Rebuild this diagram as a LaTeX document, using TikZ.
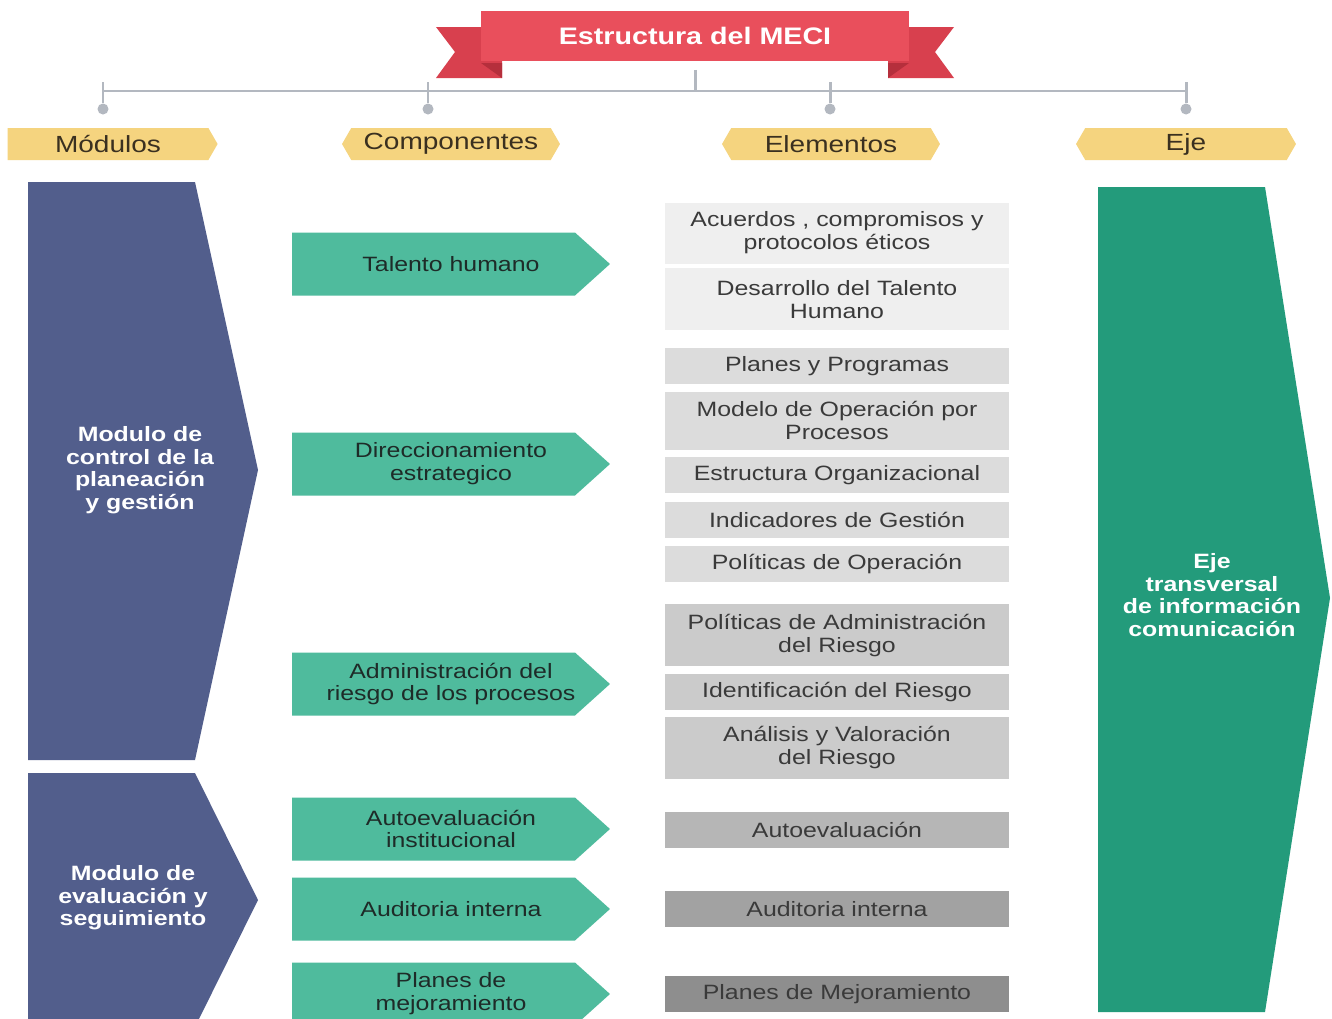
\documentclass[tikz,border=0pt]{standalone}
\usepackage{fontspec}
\setmainfont{Liberation Sans}[FakeStretch=1.2]
\usetikzlibrary{shapes.symbols,positioning}

\definecolor{ribbonMain}{HTML}{E94F5C}
\definecolor{ribbonRed}{HTML}{D8404E}
\definecolor{ribbonDark}{HTML}{B52F3C}
\definecolor{lineGray}{HTML}{B3B8C0}
\definecolor{tagYellow}{HTML}{F5D47F}
\definecolor{tagText}{HTML}{3A3020}
\definecolor{modBlue}{HTML}{525E8C}
\definecolor{compGreen}{HTML}{4FBB9D}
\definecolor{compText}{HTML}{1E2B28}
\definecolor{ejeGreen}{HTML}{239B7B}
\definecolor{elemA}{HTML}{EFEFEF}
\definecolor{elemB}{HTML}{DCDCDC}
\definecolor{elemC}{HTML}{CBCBCB}
\definecolor{elemD}{HTML}{B6B6B6}
\definecolor{elemE}{HTML}{A2A2A2}
\definecolor{elemF}{HTML}{8E8E8E}
\definecolor{elemText}{HTML}{3A3A3A}

\begin{document}
\begin{tikzpicture}[x=0.02cm,y=-0.02cm,
	every node/.style={font=\fontsize{11.8}{13}\selectfont},
	gline/.style={lineGray,line width=1.7pt},
	pin/.style={circle,fill=lineGray,minimum size=0.22cm,inner sep=0},
	tag/.style={signal,signal pointer angle=120,fill=tagYellow,minimum height=0.64cm,
		minimum width=4.36cm,inner sep=0,text=tagText,font=\fontsize{13.3}{15}\selectfont},
	comp/.style={rectangle,minimum width=6.36cm,minimum height=1.26cm,inner sep=0,
		align=center,text=compText,
		path picture={\fill[compGreen] (path picture bounding box.north west)
			-- ([xshift=-0.7cm]path picture bounding box.north east)
			-- (path picture bounding box.east)
			-- ([xshift=-0.7cm]path picture bounding box.south east)
			-- (path picture bounding box.south west) -- cycle;}},
	elem/.style={rectangle,minimum width=6.9cm,inner sep=0,align=center,text=elemText},
	modtext/.style={align=center,text=white,font=\bfseries\fontsize{11.8}{12.8}\selectfont}]

	\fill[white] (0,0) rectangle (1332,1018);
	\useasboundingbox (0,0) rectangle (1332,1018);
	\clip (0,0) rectangle (1332,1018);

	% cinta del titulo
	\fill[ribbonRed] (436,27) -- (502,27) -- (502,78) -- (436,78) -- (455,52) -- cycle;
	\fill[ribbonDark] (481,63) -- (502,63) -- (502,78) -- cycle;
	\fill[ribbonRed] (954,27) -- (888,27) -- (888,78) -- (954,78) -- (935,52) -- cycle;
	\fill[ribbonDark] (909,63) -- (888,63) -- (888,78) -- cycle;
	\node[fill=ribbonMain,minimum width=8.56cm,minimum height=1.02cm,inner sep=0,text=white,
		font=\bfseries\fontsize{13.6}{15}\selectfont] (title) at (695,36) {Estructura del MECI};

	% linea y pines
	\coordinate (bar) at (0,91);
	\coordinate (tick) at (0,82);
	\node[pin] (p1) at (103,109) {};
	\node[pin] (p2) at (428,109) {};
	\node[pin] (p3) at (830,109) {};
	\node[pin] (p4) at (1186,109) {};
	\draw[gline] (p1 |- bar) -- (p4 |- bar);
	\draw[gline,shorten <=0.16cm] (title.south) -- (title |- bar);
	\draw[gline] (p1 |- tick) -- (p1);
	\draw[gline] (p2 |- tick) -- (p2);
	\draw[gline] (p3 |- tick) -- (p3);
	\draw[gline] (p4 |- tick) -- (p4);

	% encabezados
	\node[tag,signal to=east,minimum width=4.2cm] (hmod) at (108,144) {Módulos};
	\node[tag,signal to=east and west] (hcomp) at (451,144) {Componentes};
	\node[tag,signal to=east and west] (helem) at (831,144) {Elementos};
	\node[tag,signal to=east and west,minimum width=4.4cm] (heje) at (1186,144) {Eje};

	% modulos
	\fill[modBlue] (28,182) -- (195,182) -- (258,470) -- (195,760) -- (28,760) -- cycle;
	\fill[modBlue] (28,773) -- (195,773) -- (258,900) -- (195,1027) -- (28,1027) -- cycle;
	\node[modtext] (mod1) at (140,470) {Modulo de\\control de la\\planeación\\y gestión};
	\node[modtext] (mod2) at (133,898) {Modulo de\\evaluación y\\seguimiento};

	% componentes
	\node[comp] (talento) at (451,264) {Talento humano};
	\node[comp] (direcc) at (451,464) {Direccionamiento\\estrategico};
	\node[comp] (riesgo) at (451,684) {Administración del\\riesgo de los procesos};
	\node[comp] (autoev) at (451,829) {Autoevaluación\\institucional};
	\node[comp] (audit) at (451,909) {Auditoria interna};
	\node[comp] (mejora) at (451,994) {Planes de\\mejoramiento};

	% elementos
	\node[elem,fill=elemA,minimum height=1.22cm] (acuerdos) at (837,233) {Acuerdos , compromisos y\\protocolos éticos};
	\node[elem,fill=elemA,minimum height=1.24cm,below=0.08cm of acuerdos] (desarrollo) {Desarrollo del Talento\\Humano};
	\node[elem,fill=elemB,minimum height=0.72cm,below=0.34cm of desarrollo] (planes) {Planes y Programas};
	\node[elem,fill=elemB,minimum height=1.16cm,below=0.14cm of planes] (modelo) {Modelo de Operación por\\Procesos};
	\node[elem,fill=elemB,minimum height=0.72cm,below=0.14cm of modelo] (estruct) {Estructura Organizacional};
	\node[elem,fill=elemB,minimum height=0.72cm,below=0.16cm of estruct] (indic) {Indicadores de Gestión};
	\node[elem,fill=elemB,minimum height=0.72cm,below=0.14cm of indic] (polop) {Políticas de Operación};
	\node[elem,fill=elemC,minimum height=1.24cm,below=0.44cm of polop] (poladm) {Políticas de Administración\\del Riesgo};
	\node[elem,fill=elemC,minimum height=0.72cm,below=0.14cm of poladm] (ident) {Identificación del Riesgo};
	\node[elem,fill=elemC,minimum height=1.24cm,below=0.12cm of ident] (analisis) {Análisis y Valoración\\del Riesgo};
	\node[elem,fill=elemD,minimum height=0.72cm] (eautoev) at (837,830) {Autoevaluación};
	\node[elem,fill=elemE,minimum height=0.72cm] (eaudit) at (837,909) {Auditoria interna};
	\node[elem,fill=elemF,minimum height=0.72cm] (emejora) at (837,994) {Planes de Mejoramiento};

	% eje transversal
	\fill[ejeGreen] (1098,187) -- (1265,187) -- (1330,598) -- (1265,1012) -- (1098,1012) -- cycle;
	\node[modtext] (eje) at (1212,595) {Eje\\transversal\\de información\\comunicación};

\end{tikzpicture}
\end{document}
